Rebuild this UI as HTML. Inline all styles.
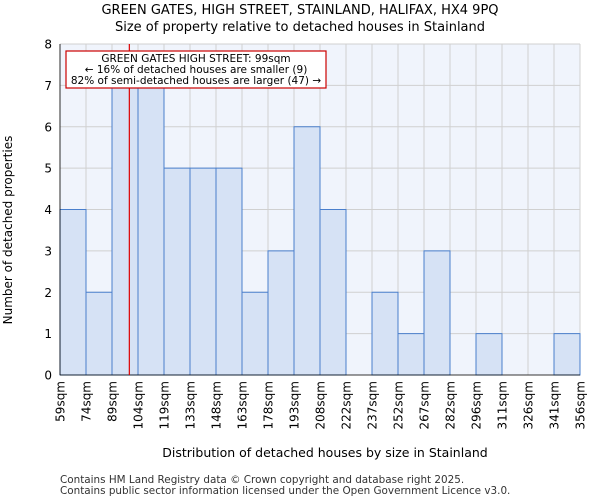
<!DOCTYPE html>
<html><head><meta charset="utf-8"><style>body{margin:0;background:#fff}svg{display:block;font-family:"DejaVu Sans","Liberation Sans",sans-serif}</style></head>
<body>
<svg id="chart" width="600" height="500">
<text x="300" y="14" text-anchor="middle" font-size="13">GREEN GATES, HIGH STREET, STAINLAND, HALIFAX, HX4 9PQ</text>
<text x="300" y="31" text-anchor="middle" font-size="13">Size of property relative to detached houses in Stainland</text>
<rect x="60" y="44" width="520" height="331" fill="#f0f4fc"/>
<g id="grid"></g><g id="bars"></g><g id="ticks"></g>
<line x1="60" y1="44" x2="60" y2="375" stroke="#000" stroke-width="0.8"/>
<line x1="60" y1="375" x2="580" y2="375" stroke="#000" stroke-width="0.8"/>
<line id="marker" y1="44" y2="375" stroke="#dd0000" stroke-width="1.2"/>
<g>
<rect x="66" y="51" width="260" height="37" fill="#fff" stroke="#cc0000" stroke-width="1.2"/>
<text x="196" y="62" text-anchor="middle" font-size="10.5">GREEN GATES HIGH STREET: 99sqm</text>
<text x="196" y="73" text-anchor="middle" font-size="10.5">← 16% of detached houses are smaller (9)</text>
<text x="196" y="84" text-anchor="middle" font-size="10.5">82% of semi-detached houses are larger (47) →</text>
</g>
<text transform="translate(12,230) rotate(-90)" text-anchor="middle" font-size="12">Number of detached properties</text>
<text x="325" y="457" text-anchor="middle" font-size="12.5">Distribution of detached houses by size in Stainland</text>
<text x="60" y="483" font-size="10.4" fill="#333">Contains HM Land Registry data © Crown copyright and database right 2025.</text>
<text x="60" y="494" font-size="10.4" fill="#333">Contains public sector information licensed under the Open Government Licence v3.0.</text>
</svg>
<script>
const binLabels=["59sqm","74sqm","89sqm","104sqm","119sqm","133sqm","148sqm","163sqm","178sqm","193sqm","208sqm","222sqm","237sqm","252sqm","267sqm","282sqm","296sqm","311sqm","326sqm","341sqm","356sqm"];
const counts=[4,2,7,7,5,5,5,2,3,6,4,0,2,1,3,0,1,0,0,1];
const yTicks=[0,1,2,3,4,5,6,7,8];
const propertySize=99;
const binEdges=[59,74,89,104,119,133,148,163,178,193,208,222,237,252,267,282,296,311,326,341,356];
const NS="http://www.w3.org/2000/svg";
const X0=60,X1=580,Y0=375,YT=44,YMAX=8;
const bw=(X1-X0)/counts.length;
const xi=i=>X0+i*bw;
const y=v=>Y0-v/YMAX*(Y0-YT);
function mk(t,a,p){const e=document.createElementNS(NS,t);for(const k in a)e.setAttribute(k,a[k]);p.appendChild(e);return e;}
const grid=document.getElementById('grid'),bars=document.getElementById('bars'),ticks=document.getElementById('ticks');
yTicks.forEach(v=>{
 mk('line',{x1:X0,x2:X1,y1:y(v),y2:y(v),stroke:'#d0d0d0','stroke-width':1},grid);
 const t=mk('text',{x:X0-8,y:y(v)+4.5,'text-anchor':'end','font-size':12},ticks);
 
 
 t.textContent=v;
});
binLabels.forEach((l,i)=>{
 mk('line',{x1:xi(i),x2:xi(i),y1:YT,y2:Y0,stroke:'#d0d0d0','stroke-width':1},grid);
 const t=mk('text',{transform:`translate(${xi(i)+4.5},${Y0+6}) rotate(-90)`,'text-anchor':'end','font-size':12},ticks);
 
 
 t.textContent=l;
});
counts.forEach((c,i)=>{
 if(c<=0)return;
 const r=mk('rect',{x:xi(i),y:y(c),width:bw,height:Y0-y(c),fill:'#d6e2f5',stroke:'#4a7fcc','stroke-width':1},bars);
 
 
});
let k=0;while(k<binEdges.length-2&&propertySize>binEdges[k+1])k++;
const mx=xi(k)+bw*(propertySize-binEdges[k])/(binEdges[k+1]-binEdges[k]);
const m=document.getElementById('marker');m.setAttribute('x1',mx);m.setAttribute('x2',mx);
</script>
</body></html>
